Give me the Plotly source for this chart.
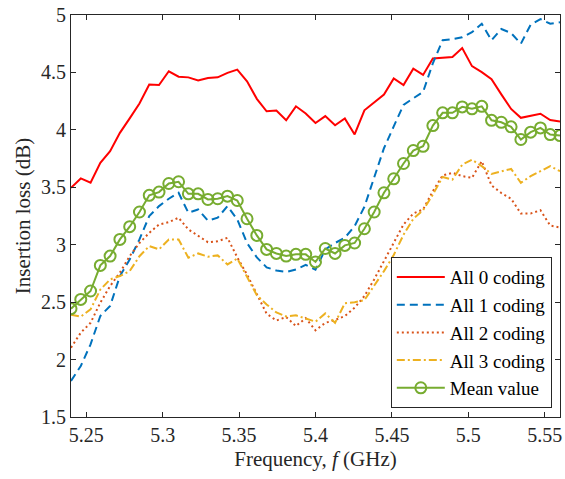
import numpy as np
import plotly.graph_objects as go

# Frequency axis (GHz): 51 samples from 5.24 to 5.56
freq = [round(5.24 + 0.0064 * i, 4) for i in range(51)]

all0 = [3.495, 3.577, 3.54, 3.713, 3.814, 3.974, 4.10, 4.229, 4.394, 4.39,
        4.51, 4.463, 4.457, 4.43, 4.452, 4.457, 4.496, 4.524, 4.423, 4.27,
        4.162, 4.168, 4.083, 4.205, 4.143, 4.06, 4.12, 4.04, 4.10, 3.96,
        4.17, 4.235, 4.307, 4.448, 4.39, 4.532, 4.478, 4.622, 4.628, 4.635,
        4.712, 4.555, 4.502, 4.442, 4.309, 4.182, 4.105, 4.12, 4.14, 4.086,
        4.073]

all1 = [1.814, 1.944, 2.133, 2.38, 2.467, 2.727, 2.872, 3.046, 3.249, 3.336,
        3.40, 3.452, 3.278, 3.307, 3.21, 3.235, 3.336, 3.22, 3.015, 2.89,
        2.803, 2.775, 2.763, 2.785, 2.824, 2.782, 2.959, 3.015, 3.06, 3.162,
        3.33, 3.59, 3.84, 4.03, 4.217, 4.275, 4.33, 4.58, 4.78, 4.79,
        4.806, 4.85, 4.924, 4.78, 4.878, 4.843, 4.75, 4.916, 4.965, 4.924,
        4.936]

all2 = [2.104, 2.234, 2.32, 2.496, 2.64, 2.757, 2.9, 3.015, 3.103, 3.176,
        3.196, 3.235, 3.133, 3.081, 3.022, 3.03, 3.06, 2.89, 2.74, 2.57,
        2.40, 2.34, 2.37, 2.292, 2.36, 2.255, 2.32, 2.344, 2.379, 2.452,
        2.553, 2.698, 2.857, 3.015, 3.176, 3.272, 3.307, 3.466, 3.603, 3.626,
        3.597, 3.583, 3.727, 3.516, 3.45, 3.40, 3.272, 3.272, 3.30, 3.167,
        3.15]

all3 = [2.39, 2.374, 2.437, 2.61, 2.698, 2.727, 2.77, 2.9, 2.988, 2.959,
        3.046, 3.046, 2.887, 2.924, 2.896, 2.907, 2.828, 2.88, 2.72, 2.56,
        2.48, 2.41, 2.376, 2.385, 2.357, 2.33, 2.402, 2.32, 2.49, 2.5,
        2.517, 2.64, 2.77, 2.91, 3.087, 3.226, 3.30, 3.437, 3.59, 3.567,
        3.697, 3.74, 3.684, 3.617, 3.64, 3.66, 3.539, 3.597, 3.64, 3.684,
        3.64]

mean_val = [2.443, 2.524, 2.597, 2.82, 2.901, 3.046, 3.157, 3.285, 3.43, 3.458,
            3.533, 3.548, 3.443, 3.443, 3.394, 3.40, 3.423, 3.385, 3.226, 3.081,
            2.959, 2.924, 2.901, 2.916, 2.916, 2.85, 2.967, 2.924, 2.994, 3.015,
            3.139, 3.285, 3.452, 3.574, 3.707, 3.82, 3.857, 4.037, 4.148, 4.148,
            4.20, 4.183, 4.205, 4.083, 4.066, 4.026, 3.916, 3.98, 4.017, 3.959,
            3.95]

names = ["All 0 coding", "All 1 coding", "All 2 coding", "All 3 coding", "Mean value"]
colors = ["#FF0000", "#0072BD", "#D95319", "#EDB120", "#77AC30"]
dashes = ["solid", "8px,5px", "2px,3px", "8px,3px,2px,3px", "solid"]

xticks = [5.25, 5.3, 5.35, 5.4, 5.45, 5.5, 5.55]
xticktext = ["5.25", "5.3", "5.35", "5.4", "5.45", "5.5", "5.55"]
yticks = [1.5, 2, 2.5, 3, 3.5, 4, 4.5, 5]
yticktext = ["1.5", "2", "2.5", "3", "3.5", "4", "4.5", "5"]

FONT = "'Times New Roman', 'Liberation Serif', 'DejaVu Serif', serif"
AX = "#262626"

fig = go.Figure()
series = [all0, all1, all2, all3]
for s, n, c, d in zip(series, names[:4], colors[:4], dashes[:4]):
    fig.add_trace(go.Scatter(x=freq, y=s, mode="lines", name=n,
                             line=dict(color=c, width=2, dash=d)))
fig.add_trace(go.Scatter(x=freq, y=mean_val, mode="lines+markers", name=names[4],
                         line=dict(color=colors[4], width=2),
                         marker=dict(symbol="circle-open", size=11,
                                     color=colors[4], line=dict(width=2, color=colors[4]))))

axis_common = dict(showline=True, linecolor=AX, linewidth=1, mirror="ticks",
                   ticks="inside", ticklen=5, tickcolor=AX, tickwidth=1,
                   showgrid=False, zeroline=False,
                   tickfont=dict(family=FONT, size=20, color=AX))

fig.update_xaxes(range=[5.24, 5.56], tickvals=xticks, ticktext=xticktext,
                 title=dict(text="Frequency, <i>f</i> (GHz)",
                            font=dict(family=FONT, size=21, color=AX), standoff=6),
                 **axis_common)
fig.update_yaxes(range=[1.5, 5], tickvals=yticks, ticktext=yticktext,
                 title=dict(text="Insertion loss (dB)",
                            font=dict(family=FONT, size=21, color=AX), standoff=4),
                 **axis_common)

fig.update_layout(
    width=565, height=479,
    margin=dict(l=71, r=3, t=15, b=62),
    plot_bgcolor="white", paper_bgcolor="white",
    font=dict(family=FONT, size=21, color=AX),
    legend=dict(x=0.654, y=0.022, xanchor="left", yanchor="bottom",
                bgcolor="white", bordercolor=AX, borderwidth=1,
                font=dict(family=FONT, size=19, color="black"),
                tracegroupgap=0, itemwidth=48),
    showlegend=True,
)

fig.write_html("out.html")
